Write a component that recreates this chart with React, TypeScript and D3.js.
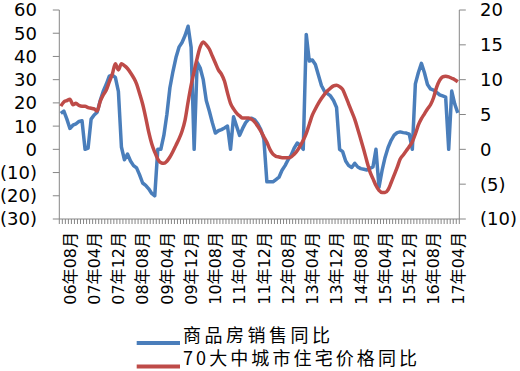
import React from "react"
import { scaleBand, scaleLinear, line, range, timeMonth, timeFormat, curveMonotoneX } from "d3"

const width = 520
const height = 371

// plot area, in page pixels
const plot = { left: 59.3, right: 459.3, top: 10, bottom: 219 }

// 2006-05 .. 2017-04, one category per month
const months = timeMonth.range(new Date(2006, 4, 1), new Date(2017, 4, 1))
const fmt = timeFormat("%y年%m月")
const categories = months.map(fmt)

const tickLabels = [
  "06年08月", "07年04月", "07年12月", "08年08月", "09年04月", "09年12月",
  "10年08月", "11年04月", "11年12月", "12年08月", "13年04月", "13年12月",
  "14年08月", "15年04月", "15年12月", "16年08月", "17年04月"
]

// 商品房销售同比 (left axis, %)
const salesYoY = [
  15.5, 16.5, 13, 9, 10.4, 11, 12, 12.3, 0, 0.5,
  13, 14.8, 16, 21, 25, 28, 31.5, 32, 31, 25,
  1, -4.5, -2, -5, -7, -8, -11, -14.5, -15.5, -17,
  -19, -20, 0, 0, 6, 15, 26.5, 33.5, 39.5, 44,
  46, 49, 53, 44, 0, 37.5, 35, 30, 21, 16.5,
  11.5, 7, 8, 8.5, 9.2, 10, 0, 14, 10, 6,
  9, 11.5, 13, 13.4, 12.7, 11, 8.5, 4.5, -14, -14,
  -14, -13, -12, -9, -7, -4.5, -2.5, 0.5, 2.7, 1.8,
  0, 49.5, 38, 38.5, 36.5, 32, 27.5, 25, 24, 23,
  21, 18, 0, -1, -5, -7, -7.8, -6, -7.6, -8.3,
  -8.6, -8.9, -8.2, -7.6, 0, -16.3, -9.2, -3.5, 0.8, 3.9,
  6.1, 7.2, 7.5, 7.2, 7, 6.5, 0, 28.2, 33.1, 37,
  33, 27.9, 26, 25.5, 24.5, 23.5, 23, 22.5, 0, 25.1,
  19.5, 15.7
]

// 70大中城市住宅价格同比 (right axis, %)
const priceYoY = [
  6.2, 6.8, 7.0, 7.2, 6.4, 6.6, 6.3, 6.2, 6.2, 6.0,
  5.9, 5.8, 5.5, 6.9, 7.8, 8.5, 9.7, 10.8, 12.3, 11.4,
  12.3, 12.0, 11.6, 11.0, 10.3, 9.4, 8.0, 6.5, 4.6, 2.5,
  0.8, -0.4, -1.4, -1.9, -2.0, -1.7, -1.1, -0.3, 0.6, 1.5,
  2.6, 4.2, 6.8, 9.2, 11.2, 13.1, 14.7, 15.4, 15.0, 14.4,
  13.4, 12.4, 11.4, 10.8, 9.8, 8.1, 6.6, 5.8, 5.2, 4.8,
  4.5, 4.5, 4.5, 4.3, 3.9, 3.3, 2.6, 1.8, 1.0, 0.0,
  -0.7, -1.0, -1.1, -1.2, -1.2, -1.2, -1.1, -0.7, -0.2, 0.5,
  1.3, 2.3, 3.6, 4.9, 5.8, 6.6, 7.3, 7.9, 8.4, 8.8,
  9.1, 9.2, 9.0, 8.6, 7.6, 6.5, 5.4, 4.3, 2.9, 1.4,
  -0.1, -1.7, -3.2, -4.2, -5.2, -5.9, -6.2, -6.2, -5.8, -4.8,
  -3.7, -2.6, -1.4, -0.8, -0.2, 0.4, 1.1, 2.2, 3.5, 4.4,
  5.1, 5.8, 6.4, 7.4, 8.9, 9.9, 10.4, 10.5, 10.4, 10.2,
  10.0, 9.7
]

const leftTicks = [-30, -20, -10, 0, 10, 20, 30, 40, 50, 60]
const rightTicks = [-10, -5, 0, 5, 10, 15, 20]

const seriesNames = ["商品房销售同比", "70大中城市住宅价格同比"]
const colors = ["#4A7EBB", "#BE4B48"]
const axisColor = "#868686"
// legend text widths as measured on the reference
const legendWidths = [147, 234]

const fmtNum = (v: number) => (v < 0 ? `(${-v})` : `${v}`)

function App() {
  const x = scaleBand<string>().domain(categories).range([plot.left, plot.right])
  const bw = x.bandwidth()
  const cx = (i: number) => (x(categories[i]) as number) + bw / 2

  const yLeft = scaleLinear().domain([-30, 60]).range([plot.bottom, plot.top])
  const yRight = scaleLinear().domain([-10, 20]).range([plot.bottom, plot.top])

  const salesLine = line<number>().x((d, i) => cx(i)).y(d => yLeft(d))
  const priceLine = line<number>().x((d, i) => cx(i)).y(d => yRight(d)).curve(curveMonotoneX)

  const boundaries = range(categories.length + 1).map(i => plot.left + i * bw)

  return (
    <svg width={width} height={height} style={{ position: "absolute", left: 0, top: 0 }}
      fontFamily="'DejaVu Sans', 'Noto Sans CJK SC', sans-serif">
      {/* axes */}
      <line x1={plot.left} x2={plot.left} y1={plot.top} y2={plot.bottom} stroke={axisColor} />
      <line x1={plot.right} x2={plot.right} y1={plot.top} y2={plot.bottom} stroke={axisColor} />
      <line x1={plot.left} x2={plot.right} y1={plot.bottom} y2={plot.bottom} stroke={axisColor} />

      {leftTicks.map(t => (
        <g key={"l" + t} transform={`translate(0, ${yLeft(t)})`}>
          <line x1={plot.left - 6.5} x2={plot.left} stroke={axisColor} />
          <text x={37} textAnchor="end" dy="0.36em" fontSize={18}>{fmtNum(t)}</text>
        </g>
      ))}

      {rightTicks.map(t => (
        <g key={"r" + t} transform={`translate(0, ${yRight(t)})`}>
          <line x1={plot.right} x2={plot.right + 6.5} stroke={axisColor} />
          <text x={480} textAnchor="start" dy="0.36em" fontSize={18}>{fmtNum(t)}</text>
        </g>
      ))}

      {boundaries.map((bx, i) => (
        <line key={"t" + i} x1={bx} x2={bx} y1={plot.bottom} y2={plot.bottom + 5} stroke={axisColor} />
      ))}

      {tickLabels.map(lab => {
        const i = categories.indexOf(lab)
        return (
          <text key={lab} transform={`translate(${cx(i)}, 232) rotate(-90)`}
            textAnchor="end" dy="0.36em" fontSize={16}>{lab}</text>
        )
      })}

      {/* series */}
      <path d={salesLine(salesYoY) as string} fill="none" stroke={colors[0]} strokeWidth={3.5}
        strokeLinejoin="round" />
      <path d={priceLine(priceYoY) as string} fill="none" stroke={colors[1]} strokeWidth={3.5}
        strokeLinejoin="round" />

      {/* legend */}
      {seriesNames.map((name, k) => (
        <g key={name} transform={`translate(0, ${343 + k * 23.5})`}>
          <line x1={136.7} x2={180} stroke={colors[k]} strokeWidth={4} />
          <text x={183} y={-7.5} dy="0.36em" fontSize={18}
            fontFamily="'Noto Sans CJK SC', sans-serif"
            textLength={legendWidths[k]} lengthAdjust="spacing">{name}</text>
        </g>
      ))}
    </svg>
  )
}

export default App
